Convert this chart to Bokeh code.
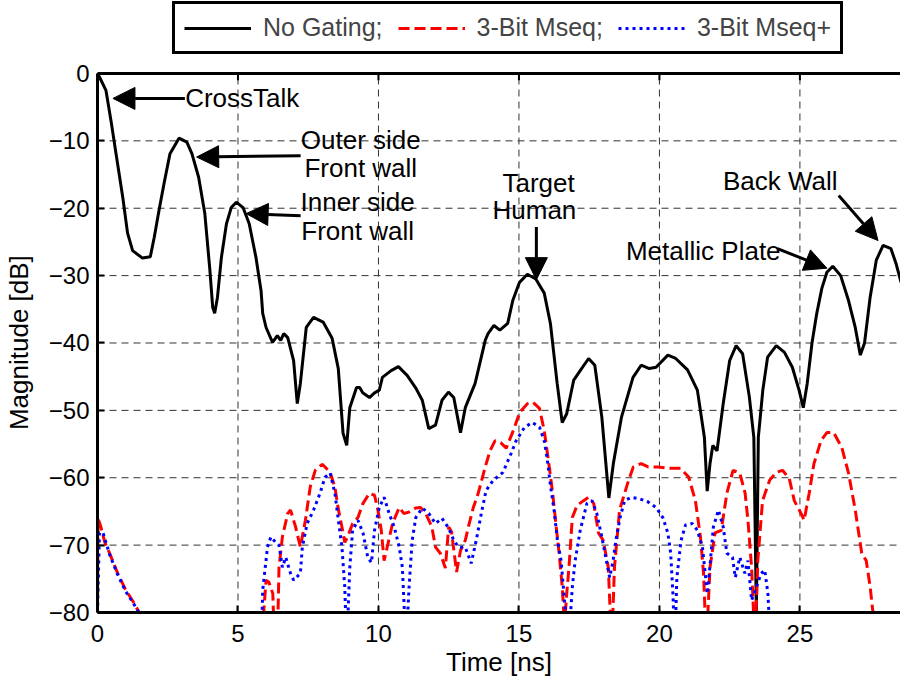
from bokeh.plotting import figure
from bokeh.models import FixedTicker, Label, Arrow, NormalHead, Range1d, Legend, LegendItem, Span
from bokeh.embed import file_html
from bokeh.resources import INLINE

FONT = "Liberation Sans"

# ---------------- data ----------------
black_t = [0, 0.08, 0.3, 0.48, 0.66, 0.9, 1.07, 1.25, 1.6, 1.88, 2.02, 2.19, 2.37, 2.58, 2.9,
           3.18, 3.36, 3.6, 3.82, 4.0, 4.1, 4.17, 4.27, 4.41, 4.59, 4.76, 4.94, 5.18, 5.4, 5.64,
           5.82, 5.88, 6.0, 6.23, 6.4, 6.52, 6.63, 6.77, 6.98, 7.11, 7.22, 7.43, 7.69, 8.03, 8.35,
           8.57, 8.74, 8.87, 8.98, 9.22, 9.33, 9.44, 9.68, 9.86, 10.03, 10.14, 10.45, 10.71, 11.02,
           11.33, 11.56, 11.79, 12.03, 12.26, 12.49, 12.68, 12.92, 13.09, 13.44, 13.8, 13.9, 14.11,
           14.32, 14.6, 14.78, 15.02, 15.3, 15.6, 15.9, 16.12, 16.36, 16.54, 16.7, 16.95, 17.18,
           17.48, 17.7, 17.95, 18.2, 18.36, 18.65, 19.06, 19.35, 19.64, 19.88, 20.3, 20.58, 21.0,
           21.35, 21.6, 21.7, 21.8, 21.9, 22.05, 22.27, 22.5, 22.73, 22.96, 23.2, 23.36, 23.45,
           23.52, 23.68, 23.85, 24.16, 24.45, 24.73, 24.97, 25.12, 25.26, 25.43, 25.6, 25.78,
           25.96, 26.17, 26.45, 26.73, 26.97, 27.15, 27.3, 27.5, 27.72, 27.96, 28.24, 28.42, 28.6]
black_db = [0, -0.6, -2.5, -7, -11.9, -18.4, -23.7, -26.3, -27.4, -27.2, -24.3, -20.3, -16.3, -11.9, -9.6,
            -10.2, -11.9, -15.4, -20.8, -29.2, -34.7, -35.6, -33.2, -27.3, -22.3, -19.9, -19.1, -19.9, -22.3, -27.3,
            -32.2, -35.6, -37.7, -39.9, -38.9, -39.6, -38.6, -39.2, -42.6, -49, -46, -37.7, -36.2, -36.9, -39.3,
            -43.8, -53.4, -55.2, -49.6, -46.6, -46.6, -47.4, -48.1, -47.4, -47, -45.1, -44.1, -43.5, -44.8,
            -46.7, -48.5, -52.7, -52.2, -48.5, -47.3, -48.1, -53.3, -49.6, -46, -39.6, -38.6, -37.4,
            -38.1, -37.1, -33.7, -31, -29.8, -30.5, -32.6, -37.1, -46, -51.8, -50.5, -45.5, -44.1,
            -42.3, -43.3, -51, -63, -57.9, -51, -45.1, -43.3, -43.8, -43.6, -41.8, -42.3, -44,
            -47, -54, -62, -57.9, -55.2, -56, -49, -42.6, -40.4, -41.6, -48, -54, -80,
            -54, -47, -42.1, -40.4, -41.4, -43.6, -47, -49.6, -46, -40, -35.6, -31.9,
            -29.5, -28.6, -30, -33.7, -37.7, -41.8, -40, -33.2, -27.7, -25.5, -26, -28.2, -31]

red_t = [0, 0.02, 0.12, 0.26, 0.44, 0.72, 1.01, 1.3, 1.48, 1.6, 5.85, 5.92, 6.0, 6.1, 6.24, 6.3, 6.4,
         6.46, 6.58, 6.77, 6.87, 7.05, 7.22, 7.4, 7.57, 7.75, 8.0, 8.28, 8.45, 8.56, 8.7, 8.8, 8.9,
         9.08, 9.27, 9.45, 9.68, 9.86, 9.98, 10.1, 10.2, 10.3, 10.5, 10.74, 10.9, 11.08, 11.32, 11.5,
         11.68, 11.9, 12.03, 12.2, 12.38, 12.5, 12.6, 12.78, 12.92, 13.09, 13.2, 13.37, 13.55, 13.8,
         13.97, 14.15, 14.35, 14.55, 14.78, 15.03, 15.3, 15.5, 15.73, 15.9, 16.08, 16.2, 16.3, 16.43,
         16.54, 16.62, 16.7, 16.78, 16.9, 17.07, 17.3, 17.48, 17.66, 17.83, 18.0, 18.18, 18.3, 18.4,
         18.58, 18.9, 19.07, 19.35, 19.6, 19.95, 20.34, 20.75, 21.04, 21.28, 21.46, 21.57, 21.67, 21.8,
         21.98, 22.2, 22.4, 22.62, 22.86, 23.05, 23.15, 23.28, 23.4, 23.5, 23.67, 23.92, 24.15, 24.38,
         24.62, 24.8, 25.04, 25.15, 25.33, 25.5, 25.75, 25.96, 26.2, 26.49, 26.73, 26.97, 27.2, 27.36,
         27.5, 27.6, 27.7, 28.6]
red_db = [-80, -66, -67.3, -69.6, -71.3, -74.2, -76.7, -78.6, -80, -90, -90, -79.7, -75.2, -75.5, -77.2, -85, -85,
          -73.3, -68.8, -65.3, -64.8, -67.3, -70.3, -66.3, -61.4, -58.9, -58, -59.2, -61.4, -64.4, -67.3, -69.6, -68.8,
          -66.8, -65.9, -63.8, -62.3, -62.6, -64.8, -67.8, -72.3, -70.5, -66.8, -64.4, -65.3, -65.1, -64.5, -64.4,
          -65.3, -67.3, -70.3, -71.2, -73.4, -67.3, -68, -74, -70.8, -69.3, -67.3, -64.5, -62.3, -58.4,
          -56, -54.5, -54.8, -55.6, -53.2, -50.3, -49, -48.8, -49.7, -53, -58.4, -62.3, -66.3, -71.2,
          -76.2, -82, -77.2, -73.3, -65.9, -64.1, -63.4, -62.9, -63.8, -68.2, -69.3, -73.3, -85, -73.3,
          -64.8, -60.4, -58.4, -57.9, -58.4, -58.4, -58.6, -58.6, -59.9, -63.4, -68.8, -74.2, -85, -73.3,
          -68.2, -67.8, -62.3, -58.9, -59.3, -62.3, -66.3, -73.3, -85, -72.3, -63.4, -60.4, -59.2, -58.9,
          -60.1, -63.4, -65.3, -66.3, -62.3, -57.9, -54.5, -53.3, -53.3, -55.5, -59.3, -64.8, -71.2, -72.3,
          -76.2, -80, -90, -90]

blue_t = [0, 0.07, 0.19, 0.3, 0.44, 0.72, 1.01, 1.3, 1.48, 1.6, 5.8, 5.88, 6.05, 6.17, 6.34, 6.46, 6.58,
          6.7, 6.87, 6.98, 7.22, 7.29, 7.46, 7.69, 7.92, 8.1, 8.28, 8.45, 8.56, 8.7, 8.8, 8.87, 8.98,
          9.08, 9.27, 9.45, 9.62, 9.75, 9.86, 10.03, 10.2, 10.38, 10.56, 10.74, 10.85, 10.98, 11.09,
          11.2, 11.33, 11.56, 11.79, 12.03, 12.26, 12.5, 12.68, 12.85, 13.09, 13.3, 13.48, 13.66, 13.83,
          14.08, 14.43, 14.72, 14.9, 15.2, 15.48, 15.73, 15.9, 16.0, 16.13, 16.25, 16.37, 16.5, 16.6,
          16.76, 16.9, 17.0, 17.18, 17.42, 17.6, 17.77, 17.95, 18.13, 18.23, 18.35, 18.47, 18.6, 18.76,
          19.0, 19.28, 19.6, 19.88, 20.12, 20.3, 20.4, 20.48, 20.55, 20.62, 20.77, 20.93, 21.17, 21.35,
          21.53, 21.63, 21.7, 21.8, 21.92, 22.1, 22.27, 22.4, 22.6, 22.7, 22.86, 23.04, 23.15, 23.28,
          23.45, 23.62, 23.75, 23.86, 23.96, 24.1]
blue_db = [-80, -68.2, -68.1, -69.6, -71.5, -74.4, -76.9, -78.8, -80, -90, -90, -76.7, -70.3, -68.8, -69.6, -70, -73.3,
           -71.8, -74.2, -75.2, -74.2, -70.3, -66.8, -64.8, -62.3, -59.9, -59.3, -62.3, -65.9, -70.3, -76.2, -85, -73.3,
           -67.8, -66.3, -68.2, -71.8, -72.6, -67.8, -64.4, -62.9, -65.3, -67.3, -70.3, -73.3, -85, -76.2,
           -69.3, -65.9, -64.5, -65.3, -66.8, -66, -67.5, -69.3, -70.3, -70.3, -72.7, -69.3, -65.3, -61.9,
           -60.4, -59.2, -56.4, -54.5, -52.5, -51.8, -52.5, -54.5, -57, -61.4, -64.8, -69.3, -72.3, -77.2,
           -85, -76.2, -72.3, -67.8, -63.8, -63.4, -65.3, -68.8, -72.7, -74.8, -72.3, -68.8, -65.9, -63.4,
           -62.9, -63.1, -63.6, -64.4, -65.9, -68.2, -71.2, -77.2, -85, -74.8, -69.3, -67, -66.8, -67.8,
           -70.3, -74.2, -77.2, -73, -67.3, -64.8, -67.3, -71.2, -71.8, -74.8, -71.8, -74.2, -72.3, -78.2,
           -76.2, -74.2, -73.7, -77.2, -85, -90]

x_ticks = [0, 5, 10, 15, 20, 25]
y_ticks = [-80, -70, -60, -50, -40, -30, -20, -10, 0]
y_lo, y_hi = -80, 0

series_labels = ["No Gating;", "3-Bit Mseq;", "3-Bit Mseq+"]

# annotations: (text, x, y, align)
notes = [
    ("CrossTalk", 3.12, -3.7, "left"),
    ("Outer side", 9.37, -9.9, "center"),
    ("Front wall", 9.37, -14.1, "center"),
    ("Inner side", 9.26, -19.1, "center"),
    ("Front wall", 9.26, -23.4, "center"),
    ("Target", 15.7, -16.2, "center"),
    ("Human", 15.55, -20.3, "center"),
    ("Back Wall", 24.3, -15.9, "center"),
    ("Metallic Plate", 21.56, -26.3, "center"),
]
arrows = [  # (x_start, y_start, x_end, y_end)
    (3.11, -3.7, 0.55, -3.7),
    (7.23, -12.2, 3.53, -12.4),
    (7.23, -21.1, 5.29, -20.8),
    (15.62, -22.8, 15.62, -30.6),
    (26.38, -18.1, 27.78, -24.8),
    (24.2, -26.0, 25.96, -28.9),
]

# ---------------- figure ----------------
# the frame also holds the legend strip above the 0 dB line
p = figure(width=900, height=680, x_range=Range1d(0, 28.58), y_range=Range1d(y_lo, 10.83),
           output_backend="svg", toolbar_location=None,
           min_border_left=87, min_border_right=0, min_border_top=0, min_border_bottom=68)
p.xgrid.visible = False
p.ygrid.visible = False
p.outline_line_color = None

# dashed grid inside the axes box
p.segment(x0=x_ticks, y0=[y_lo] * len(x_ticks), x1=x_ticks, y1=[y_hi] * len(x_ticks),
          line_color="#333333", line_width=1, line_dash="7 5")
p.segment(x0=[0] * len(y_ticks), y0=y_ticks, x1=[28.58] * len(y_ticks), y1=y_ticks,
          line_color="#333333", line_width=1, line_dash="7 5")

r_black = p.line(black_t, black_db, line_color="black", line_width=3)
r_red = p.line(red_t, red_db, line_color="#ff0000", line_width=3, line_dash="11 5")
r_blue = p.line(blue_t, blue_db, line_color="#0000ff", line_width=3, line_dash="3 4")

# top edge of the axes box
p.add_layout(Span(location=y_hi, dimension="width", line_color="black", line_width=3))
# small inward ticks on the top edge
p.segment(x0=x_ticks, y0=[y_hi] * len(x_ticks), x1=x_ticks, y1=[y_hi - 1.0] * len(x_ticks),
          line_color="black", line_width=2)

for ax in (p.xaxis[0], p.yaxis[0]):
    ax.major_tick_in = 7
    ax.major_tick_out = 0
    ax.minor_tick_line_color = None
    ax.axis_line_width = 3
    ax.major_tick_line_width = 2
    ax.major_label_text_font = FONT
    ax.major_label_text_font_size = "24px"
    ax.major_label_text_color = "black"
    ax.axis_label_text_font = FONT
    ax.axis_label_text_font_size = "26px"
    ax.axis_label_text_font_style = "normal"
    ax.axis_label_text_color = "black"

p.xaxis[0].ticker = FixedTicker(ticks=x_ticks)
p.yaxis[0].ticker = FixedTicker(ticks=y_ticks)
p.yaxis[0].bounds = (y_lo, y_hi)
p.xaxis[0].axis_label = "Time [ns]"
# trailing no-break spaces centre the label on the -80..0 part of the axis
p.yaxis[0].axis_label = "Magnitude [dB]" + "\u00a0" * 10
p.xaxis[0].major_label_standoff = 12
p.xaxis[0].axis_label_standoff = 2
p.yaxis[0].major_label_standoff = 8
p.yaxis[0].axis_label_standoff = 12

for txt, x, y, align in notes:
    p.add_layout(Label(x=x, y=y, text=txt, text_align=align, text_baseline="middle",
                       text_font=FONT, text_font_size="26px", text_color="black"))
for xs, ys, xe, ye in arrows:
    p.add_layout(Arrow(x_start=xs, y_start=ys, x_end=xe, y_end=ye, line_width=3, line_color="black",
                       end=NormalHead(size=22, fill_color="black", line_color="black", line_width=1)))

lg = Legend(items=[LegendItem(label=series_labels[0], renderers=[r_black]),
                   LegendItem(label=series_labels[1], renderers=[r_red]),
                   LegendItem(label=series_labels[2], renderers=[r_blue])],
            location=(75, 558), orientation="horizontal",
            label_text_font=FONT, label_text_font_size="25px",
            glyph_width=67, glyph_height=20, label_standoff=12, spacing=15,
            padding=9, margin=0, border_line_color="black", border_line_width=3,
            border_line_alpha=1.0,
            background_fill_color="white", background_fill_alpha=1)
p.add_layout(lg, "center")

p.background_fill_color = "white"
p.border_fill_color = "white"

open("out.html", "w").write(file_html(p, INLINE))
